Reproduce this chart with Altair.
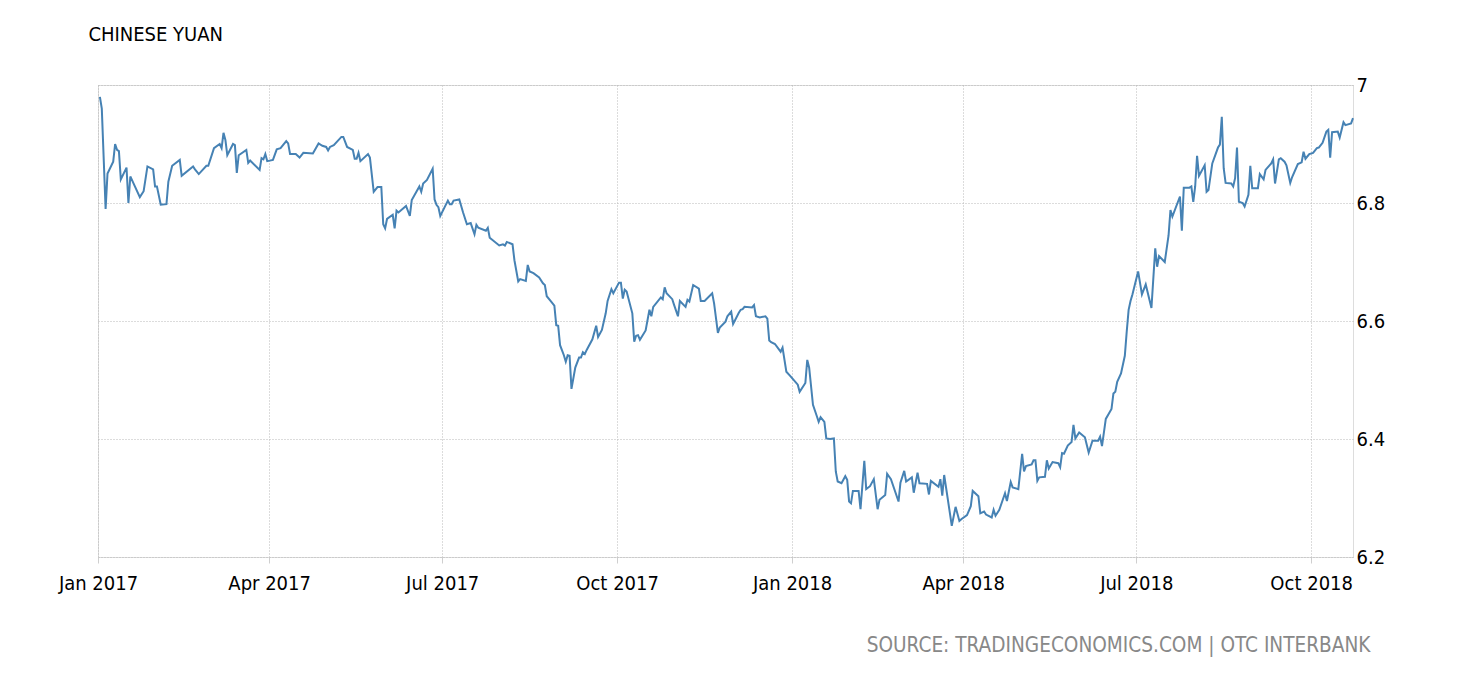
import pandas as pd
import altair as alt

# USD/CNY (onshore) readings, Jan 2017 - Oct 2018
dates = [
    "2017-01-02", "2017-01-03", "2017-01-05", "2017-01-06", "2017-01-09", "2017-01-10",
    "2017-01-11", "2017-01-12", "2017-01-13", "2017-01-16", "2017-01-17", "2017-01-18",
    "2017-01-23", "2017-01-25", "2017-01-27", "2017-01-30", "2017-01-31", "2017-02-01",
    "2017-02-03", "2017-02-06", "2017-02-07", "2017-02-09", "2017-02-13", "2017-02-14",
    "2017-02-20", "2017-02-21", "2017-02-23", "2017-02-27", "2017-02-28", "2017-03-03",
    "2017-03-06", "2017-03-07", "2017-03-08", "2017-03-09", "2017-03-10", "2017-03-13",
    "2017-03-14", "2017-03-15", "2017-03-16", "2017-03-20", "2017-03-21", "2017-03-22",
    "2017-03-27", "2017-03-28", "2017-03-29", "2017-03-30", "2017-03-31", "2017-04-03",
    "2017-04-05", "2017-04-07", "2017-04-10", "2017-04-11", "2017-04-12", "2017-04-15",
    "2017-04-17", "2017-04-19", "2017-04-24", "2017-04-27", "2017-04-29", "2017-05-01",
    "2017-05-02", "2017-05-03", "2017-05-05", "2017-05-09", "2017-05-10", "2017-05-12",
    "2017-05-15", "2017-05-16", "2017-05-17", "2017-05-18", "2017-05-19", "2017-05-23",
    "2017-05-24", "2017-05-26", "2017-05-28", "2017-05-30", "2017-05-31", "2017-06-01",
    "2017-06-02", "2017-06-05", "2017-06-06", "2017-06-07", "2017-06-08", "2017-06-12",
    "2017-06-14", "2017-06-15", "2017-06-19", "2017-06-20", "2017-06-21", "2017-06-23",
    "2017-06-26", "2017-06-27", "2017-06-28", "2017-06-29", "2017-06-30", "2017-07-04",
    "2017-07-05", "2017-07-06", "2017-07-07", "2017-07-10", "2017-07-12", "2017-07-14",
    "2017-07-16", "2017-07-18", "2017-07-19", "2017-07-20", "2017-07-24", "2017-07-25",
    "2017-07-26", "2017-07-31", "2017-08-02", "2017-08-03", "2017-08-04", "2017-08-07",
    "2017-08-08", "2017-08-10", "2017-08-11", "2017-08-14", "2017-08-15", "2017-08-16",
    "2017-08-18", "2017-08-21", "2017-08-23", "2017-08-24", "2017-08-25", "2017-08-27",
    "2017-08-29", "2017-08-30", "2017-08-31", "2017-09-01", "2017-09-03", "2017-09-04",
    "2017-09-05", "2017-09-06", "2017-09-07", "2017-09-09", "2017-09-11", "2017-09-12",
    "2017-09-13", "2017-09-14", "2017-09-15", "2017-09-18", "2017-09-20", "2017-09-21",
    "2017-09-23", "2017-09-25", "2017-09-26", "2017-09-28", "2017-09-29", "2017-10-02",
    "2017-10-03", "2017-10-04", "2017-10-05", "2017-10-06", "2017-10-09", "2017-10-10",
    "2017-10-11", "2017-10-12", "2017-10-13", "2017-10-16", "2017-10-18", "2017-10-19",
    "2017-10-20", "2017-10-24", "2017-10-25", "2017-10-26", "2017-10-27", "2017-10-30",
    "2017-10-31", "2017-11-02", "2017-11-03", "2017-11-06", "2017-11-07", "2017-11-08",
    "2017-11-10", "2017-11-13", "2017-11-14", "2017-11-16", "2017-11-20", "2017-11-21",
    "2017-11-23", "2017-11-24", "2017-11-27", "2017-11-28", "2017-11-30", "2017-12-01",
    "2017-12-04", "2017-12-05", "2017-12-06", "2017-12-07", "2017-12-11", "2017-12-12",
    "2017-12-13", "2017-12-15", "2017-12-18", "2017-12-19", "2017-12-20", "2017-12-21",
    "2017-12-23", "2017-12-26", "2017-12-27", "2017-12-29", "2017-12-31", "2018-01-04",
    "2018-01-05", "2018-01-08", "2018-01-09", "2018-01-10", "2018-01-12", "2018-01-14",
    "2018-01-15", "2018-01-16", "2018-01-18", "2018-01-19", "2018-01-21", "2018-01-23",
    "2018-01-24", "2018-01-25", "2018-01-27", "2018-01-29", "2018-01-30", "2018-01-31",
    "2018-02-01", "2018-02-02", "2018-02-05", "2018-02-06", "2018-02-08", "2018-02-09",
    "2018-02-11", "2018-02-13", "2018-02-15", "2018-02-16", "2018-02-19", "2018-02-20",
    "2018-02-22", "2018-02-26", "2018-02-27", "2018-03-01", "2018-03-02", "2018-03-05",
    "2018-03-06", "2018-03-08", "2018-03-09", "2018-03-13", "2018-03-14", "2018-03-15",
    "2018-03-19", "2018-03-20", "2018-03-21", "2018-03-22", "2018-03-26", "2018-03-28",
    "2018-03-30", "2018-03-31", "2018-04-03", "2018-04-05", "2018-04-06", "2018-04-09",
    "2018-04-10", "2018-04-12", "2018-04-13", "2018-04-16", "2018-04-17", "2018-04-18",
    "2018-04-20", "2018-04-23", "2018-04-24", "2018-04-26", "2018-04-27", "2018-04-30",
    "2018-05-02", "2018-05-03", "2018-05-04", "2018-05-07", "2018-05-08", "2018-05-09",
    "2018-05-10", "2018-05-11", "2018-05-14", "2018-05-15", "2018-05-16", "2018-05-18",
    "2018-05-21", "2018-05-22", "2018-05-23", "2018-05-24", "2018-05-26", "2018-05-28",
    "2018-05-29", "2018-05-30", "2018-06-01", "2018-06-04", "2018-06-06", "2018-06-08",
    "2018-06-11", "2018-06-12", "2018-06-13", "2018-06-15", "2018-06-18", "2018-06-19",
    "2018-06-20", "2018-06-21", "2018-06-23", "2018-06-25", "2018-06-26", "2018-06-27",
    "2018-06-28", "2018-06-29", "2018-07-02", "2018-07-04", "2018-07-06", "2018-07-09",
    "2018-07-11", "2018-07-12", "2018-07-13", "2018-07-16", "2018-07-18", "2018-07-19",
    "2018-07-20", "2018-07-24", "2018-07-25", "2018-07-26", "2018-07-29", "2018-07-30",
    "2018-07-31", "2018-08-01", "2018-08-02", "2018-08-03", "2018-08-06", "2018-08-07",
    "2018-08-08", "2018-08-10", "2018-08-13", "2018-08-14", "2018-08-15", "2018-08-16",
    "2018-08-17", "2018-08-20", "2018-08-21", "2018-08-22", "2018-08-23", "2018-08-24",
    "2018-08-26", "2018-08-27", "2018-08-29", "2018-08-30", "2018-08-31", "2018-09-03",
    "2018-09-04", "2018-09-06", "2018-09-07", "2018-09-10", "2018-09-11", "2018-09-12",
    "2018-09-14", "2018-09-15", "2018-09-17", "2018-09-18", "2018-09-20", "2018-09-21",
    "2018-09-24", "2018-09-26", "2018-09-27", "2018-09-28", "2018-09-30", "2018-10-02",
    "2018-10-04", "2018-10-05", "2018-10-07", "2018-10-09", "2018-10-10", "2018-10-11",
    "2018-10-12", "2018-10-15", "2018-10-16", "2018-10-18", "2018-10-19", "2018-10-22",
    "2018-10-23",
]

rates = [
    6.980, 6.960, 6.790, 6.850, 6.870, 6.900,
    6.890, 6.888, 6.840, 6.860, 6.800, 6.845,
    6.810, 6.820, 6.862, 6.857, 6.828, 6.828,
    6.797, 6.798, 6.836, 6.863, 6.873, 6.846,
    6.862, 6.857, 6.849, 6.863, 6.863, 6.893,
    6.900, 6.893, 6.919, 6.907, 6.881, 6.900,
    6.898, 6.851, 6.881, 6.890, 6.868, 6.872,
    6.856, 6.876, 6.874, 6.883, 6.871, 6.873,
    6.891, 6.893, 6.905, 6.901, 6.883, 6.883,
    6.877, 6.885, 6.884, 6.901, 6.897, 6.895,
    6.889, 6.895, 6.898, 6.912, 6.912, 6.895,
    6.890, 6.875, 6.875, 6.885, 6.871, 6.883,
    6.877, 6.819, 6.827, 6.827, 6.764, 6.757,
    6.773, 6.780, 6.757, 6.787, 6.784, 6.795,
    6.778, 6.805, 6.828, 6.819, 6.833, 6.839,
    6.858, 6.806, 6.797, 6.793, 6.778, 6.804,
    6.798, 6.798, 6.804, 6.806, 6.784, 6.764,
    6.766, 6.747, 6.763, 6.758, 6.753, 6.758,
    6.741, 6.728, 6.730, 6.728, 6.734, 6.730,
    6.703, 6.667, 6.671, 6.668, 6.695, 6.684,
    6.681, 6.674, 6.664, 6.661, 6.642, 6.634,
    6.626, 6.593, 6.592, 6.559, 6.542, 6.531,
    6.542, 6.541, 6.485, 6.521, 6.538, 6.538,
    6.547, 6.544, 6.551, 6.569, 6.592, 6.573,
    6.585, 6.613, 6.634, 6.654, 6.647, 6.665,
    6.665, 6.638, 6.653, 6.650, 6.613, 6.565,
    6.575, 6.576, 6.568, 6.584, 6.619, 6.608,
    6.624, 6.640, 6.637, 6.657, 6.647, 6.637,
    6.627, 6.608, 6.634, 6.624, 6.636, 6.633,
    6.661, 6.655, 6.634, 6.634, 6.647, 6.630,
    6.580, 6.589, 6.599, 6.608, 6.616, 6.595,
    6.614, 6.619, 6.620, 6.624, 6.623, 6.627,
    6.608, 6.606, 6.608, 6.604, 6.567, 6.564,
    6.561, 6.548, 6.555, 6.514, 6.507, 6.492,
    6.480, 6.495, 6.534, 6.521, 6.458, 6.439,
    6.429, 6.437, 6.429, 6.401, 6.400, 6.401,
    6.345, 6.328, 6.325, 6.337, 6.331, 6.294,
    6.291, 6.312, 6.312, 6.281, 6.363, 6.315,
    6.320, 6.332, 6.281, 6.297, 6.305, 6.341,
    6.332, 6.294, 6.326, 6.346, 6.328, 6.335,
    6.309, 6.343, 6.325, 6.324, 6.306, 6.329,
    6.319, 6.332, 6.304, 6.339, 6.253, 6.285,
    6.261, 6.264, 6.271, 6.286, 6.312, 6.303,
    6.274, 6.277, 6.272, 6.267, 6.280, 6.270,
    6.280, 6.308, 6.295, 6.327, 6.318, 6.315,
    6.375, 6.345, 6.354, 6.357, 6.364, 6.364,
    6.329, 6.335, 6.336, 6.364, 6.350, 6.361,
    6.359, 6.352, 6.376, 6.375, 6.389, 6.395,
    6.424, 6.401, 6.411, 6.403, 6.377, 6.397,
    6.397, 6.404, 6.388, 6.434, 6.451, 6.477,
    6.480, 6.497, 6.511, 6.541, 6.582, 6.619,
    6.634, 6.645, 6.684, 6.645, 6.662, 6.622,
    6.723, 6.692, 6.710, 6.700, 6.745, 6.788,
    6.777, 6.811, 6.753, 6.826, 6.826, 6.828,
    6.802, 6.828, 6.880, 6.846, 6.864, 6.819,
    6.822, 6.867, 6.894, 6.899, 6.946, 6.859,
    6.834, 6.833, 6.828, 6.842, 6.894, 6.802,
    6.800, 6.794, 6.814, 6.863, 6.825, 6.825,
    6.849, 6.840, 6.856, 6.867, 6.874, 6.833,
    6.874, 6.876, 6.870, 6.864, 6.834, 6.844,
    6.866, 6.869, 6.887, 6.875, 6.883, 6.885,
    6.893, 6.894, 6.902, 6.921, 6.924, 6.877,
    6.920, 6.921, 6.911, 6.937, 6.932, 6.935,
    6.944,
]

y_ticks = [6.2, 6.4, 6.6, 6.8, 7.0]
x_ticks = [(2017, 1), (2017, 4), (2017, 7), (2017, 10),
           (2018, 1), (2018, 4), (2018, 7), (2018, 10)]

df = pd.DataFrame({"date": pd.to_datetime(dates), "rate": rates})

FONT = "DejaVu Sans Condensed, DejaVu Sans"

line = alt.Chart(df, title=alt.Title(
    "CHINESE YUAN", anchor="start", dx=30, offset=10, baseline="bottom",
    fontSize=20, fontWeight="normal", color="#000000", font=FONT
)).mark_line(color="#4682b4", strokeWidth=2).encode(
    x=alt.X("date:T",
            scale=alt.Scale(domain=[alt.DateTime(year=2017, month=1, date=1),
                                    alt.DateTime(year=2018, month=10, date=23)]),
            axis=alt.Axis(values=[alt.DateTime(year=y, month=m, date=1) for y, m in x_ticks],
                          format="%b %Y", domain=False, grid=True, labelFlush=False,
                          gridColor="#b8b8b8", gridDash=[1, 2],
                          tickColor="#cfcfcf", tickSize=6, labelPadding=10,
                          labelFontSize=20, labelColor="#000000", labelFont=FONT,
                          title="SOURCE: TRADINGECONOMICS.COM | OTC INTERBANK",
                          titleAnchor="end", titleAlign="right", titleX=1272, titleY=88,
                          titleBaseline="middle", titleColor="#888888",
                          titleFontSize=20.6, titleFontWeight="normal", titleFont=FONT)),
    y=alt.Y("rate:Q",
            scale=alt.Scale(domain=[6.2, 7.0], nice=False, zero=False),
            axis=alt.Axis(orient="right", values=y_ticks, format="~g",
                          domain=False, ticks=False, tickSize=0, labelPadding=3,
                          grid=True, gridColor="#b8b8b8", gridDash=[1, 2],
                          labelFontSize=20, labelColor="#000000", labelFont=FONT,
                          title=None))
).properties(
    width=1255, height=472,
    autosize=alt.AutoSizeParams(type="none"),
    padding={"left": 90, "top": 77, "right": 95, "bottom": 100}
).configure_view(stroke=None).configure(background="white")

chart = line
chart.save("out.html", embed_options={"renderer": "svg", "actions": False})
